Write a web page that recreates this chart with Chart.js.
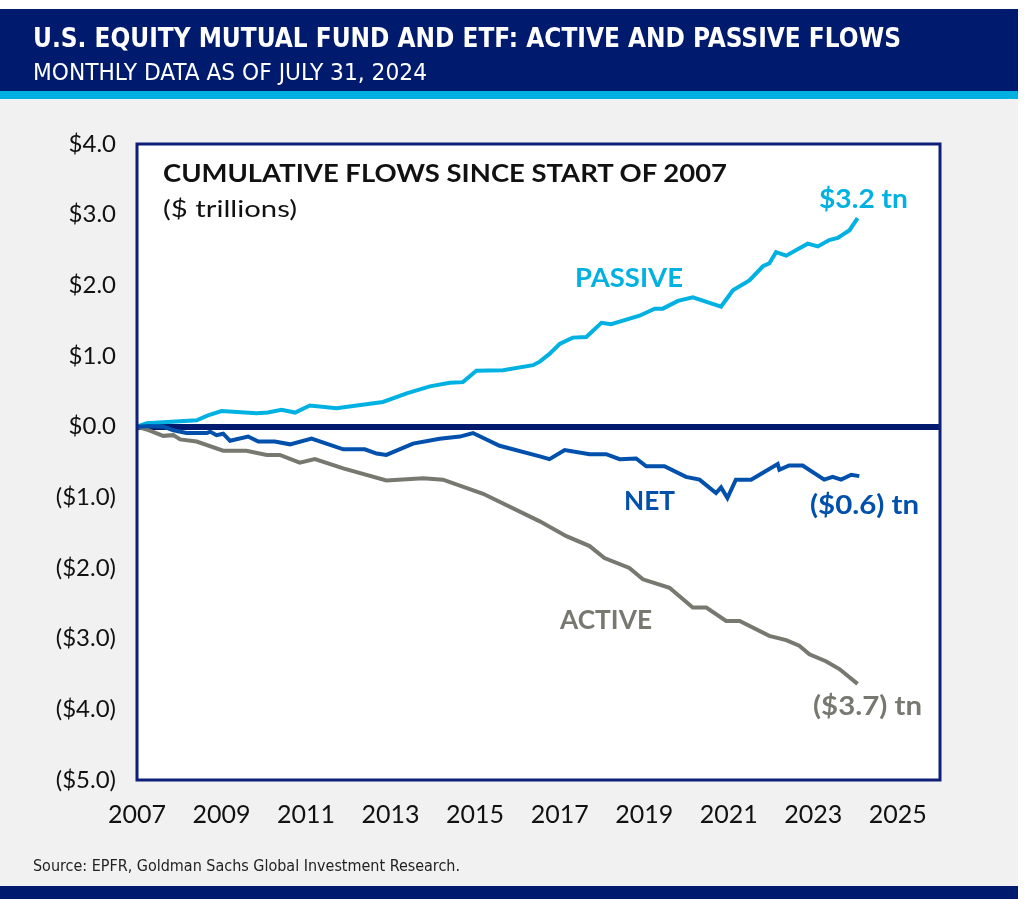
<!DOCTYPE html>
<html>
<head>
<meta charset="utf-8">
<script src="https://cdn.jsdelivr.net/npm/chart.js@4.4.1/dist/chart.umd.min.js"></script>
<style>
  body { margin: 0; width: 1024px; height: 899px; position: relative; overflow: hidden; background: #fff; font-family: Lato, sans-serif; }
  #header { position: absolute; left: 0; top: 9px; width: 1018px; height: 82px; background: #001a6e; }
  #stripe { position: absolute; left: 0; top: 91px; width: 1018px; height: 8px; background: #00b0e0; }
  #panel { position: absolute; left: 0; top: 99px; width: 1018px; height: 787px; background: #f1f1f1; }
  #footer { position: absolute; left: 0; top: 886px; width: 1018px; height: 13px; background: #001a6e; }
  #chart { position: absolute; left: 0; top: 0; }
  .txt { position: absolute; white-space: nowrap; line-height: 1; transform-origin: 0 0; }
  .narrow { font-family: "Liberation Sans Narrow", "DejaVu Sans Condensed", "Roboto", sans-serif; }
</style>
</head>
<body>
<div id="header"></div>
<div id="stripe"></div>
<div id="panel"></div>
<div id="footer"></div>
<canvas id="chart" width="1024" height="899"></canvas>

<div class="txt narrow" data-w="868" data-c="38" style="left:33px;font-size:26px;font-weight:bold;color:#fff">U.S. EQUITY MUTUAL FUND AND ETF: ACTIVE AND PASSIVE FLOWS</div>
<div class="txt narrow" data-w="394" data-c="72" style="left:33px;font-size:23px;color:#fff">MONTHLY DATA AS OF JULY 31, 2024</div>
<div class="txt narrow" data-w="427" data-c="866" style="left:33px;font-size:16px;color:#222">Source: EPFR, Goldman Sachs Global Investment Research.</div>

<div class="txt" data-w="564" data-c="174" style="left:163px;font-size:24px;font-weight:bold;color:#111">CUMULATIVE FLOWS SINCE START OF 2007</div>
<div class="txt" data-w="134" data-c="209" style="left:163px;font-size:24px;color:#111">($ trillions)</div>
<div class="txt" data-w="108" data-c="278" style="left:575px;font-size:26px;font-weight:bold;color:#00b1e1">PASSIVE</div>
<div class="txt" data-w="89" data-c="199" style="left:819px;font-size:26px;font-weight:bold;color:#00b1e1">$3.2 tn</div>
<div class="txt" data-w="51" data-c="501" style="left:624px;font-size:26px;font-weight:bold;color:#0050ac">NET</div>
<div class="txt" data-w="109" data-c="505" style="left:810px;font-size:26px;font-weight:bold;color:#0050ac">($0.6) tn</div>
<div class="txt" data-w="92" data-c="620" style="left:560px;font-size:26px;font-weight:bold;color:#777870">ACTIVE</div>
<div class="txt" data-w="109" data-c="706" style="left:813px;font-size:26px;font-weight:bold;color:#777870">($3.7) tn</div>

<script>
// cumulative flows, $ trillions
const passiveX = [2007.00, 2007.23, 2008.41, 2008.68, 2009.00, 2009.83, 2010.10, 2010.42, 2010.74, 2011.09, 2011.72, 2012.82, 2013.38, 2013.93, 2014.40, 2014.71, 2015.03, 2015.66, 2016.37, 2016.53, 2016.76, 2017.00, 2017.31, 2017.63, 2017.99, 2018.22, 2018.89, 2019.25, 2019.44, 2019.80, 2020.15, 2020.82, 2021.10, 2021.49, 2021.81, 2021.96, 2022.12, 2022.36, 2022.87, 2023.11, 2023.38, 2023.58, 2023.86, 2024.05];
const passiveY = [0.00, 0.05, 0.09, 0.16, 0.22, 0.19, 0.20, 0.24, 0.20, 0.30, 0.26, 0.35, 0.47, 0.57, 0.62, 0.63, 0.79, 0.80, 0.87, 0.92, 1.03, 1.17, 1.26, 1.27, 1.47, 1.45, 1.57, 1.67, 1.67, 1.78, 1.83, 1.70, 1.93, 2.07, 2.27, 2.31, 2.47, 2.42, 2.59, 2.55, 2.64, 2.67, 2.78, 2.95];

const activeX = [2007.00, 2007.23, 2007.62, 2007.86, 2008.02, 2008.41, 2009.04, 2009.59, 2010.07, 2010.38, 2010.85, 2011.21, 2011.88, 2012.90, 2013.77, 2014.24, 2015.19, 2016.53, 2017.16, 2017.71, 2018.06, 2018.65, 2018.97, 2019.60, 2020.15, 2020.47, 2020.94, 2021.26, 2021.96, 2022.36, 2022.67, 2022.91, 2023.30, 2023.62, 2024.05];
const activeY = [0.00, -0.04, -0.13, -0.12, -0.18, -0.21, -0.34, -0.34, -0.40, -0.40, -0.51, -0.46, -0.59, -0.76, -0.73, -0.75, -0.95, -1.34, -1.55, -1.69, -1.86, -2.00, -2.16, -2.28, -2.56, -2.56, -2.75, -2.75, -2.96, -3.02, -3.10, -3.22, -3.32, -3.43, -3.64];

const netX = [2007.00, 2007.31, 2007.62, 2007.86, 2008.17, 2008.65, 2008.73, 2008.88, 2009.04, 2009.20, 2009.63, 2009.87, 2010.26, 2010.62, 2011.13, 2011.88, 2012.39, 2012.67, 2012.90, 2013.53, 2014.16, 2014.64, 2014.95, 2015.58, 2016.53, 2016.76, 2017.12, 2017.71, 2018.10, 2018.42, 2018.81, 2019.05, 2019.48, 2019.99, 2020.31, 2020.70, 2020.82, 2020.97, 2021.17, 2021.53, 2022.16, 2022.20, 2022.43, 2022.75, 2023.26, 2023.46, 2023.66, 2023.90, 2024.09];
const netY = [0.00, 0.01, 0.00, -0.05, -0.09, -0.09, -0.07, -0.12, -0.10, -0.20, -0.14, -0.21, -0.21, -0.25, -0.17, -0.32, -0.32, -0.38, -0.40, -0.24, -0.17, -0.14, -0.09, -0.27, -0.42, -0.46, -0.33, -0.39, -0.39, -0.46, -0.45, -0.56, -0.56, -0.71, -0.75, -0.94, -0.86, -1.01, -0.75, -0.75, -0.53, -0.61, -0.55, -0.55, -0.75, -0.71, -0.75, -0.68, -0.70];

const xTicks = [2007, 2009, 2011, 2013, 2015, 2017, 2019, 2021, 2023, 2025];
const yTicks = [-5, -4, -3, -2, -1, 0, 1, 2, 3, 4];

const NAVY = "#0d1f78";

// joins x and y arrays into {x, y} points
function points(xs, ys) {
  return xs.map((x, i) => ({ x: x, y: ys[i] }));
}

function money(v) {
  return v < 0 ? "($" + Math.abs(v).toFixed(1) + ")" : "$" + v.toFixed(1);
}

// white plot area with a navy frame
const frame = {
  id: "frame",
  beforeDraw(chart) {
    const a = chart.chartArea;
    chart.ctx.save();
    chart.ctx.fillStyle = "#fff";
    chart.ctx.fillRect(a.left, a.top, a.right - a.left, a.bottom - a.top);
    chart.ctx.restore();
  },
  afterDraw(chart) {
    const a = chart.chartArea;
    chart.ctx.save();
    chart.ctx.strokeStyle = NAVY;
    chart.ctx.lineWidth = 3;
    chart.ctx.strokeRect(a.left, a.top, a.right - a.left, a.bottom - a.top);
    chart.ctx.restore();
  },
};

function line(data, color) {
  return {
    data: data,
    borderColor: color,
    borderWidth: 4,
    pointRadius: 0,
    tension: 0,
    fill: false,
  };
}

new Chart(document.getElementById("chart"), {
  type: "line",
  data: {
    datasets: [
      line(points(netX, netY), "#0050ac"),
      line(points(passiveX, passiveY), "#00b1e1"),
      line(points(activeX, activeY), "#777870"),
    ],
  },
  options: {
    responsive: false,
    animation: false,
    layout: { padding: { top: 144, right: 84, left: 0, bottom: 0 } },
    plugins: { legend: { display: false }, tooltip: { enabled: false } },
    scales: {
      x: {
        type: "linear",
        min: 2007,
        max: 2026,
        afterBuildTicks: (s) => { s.ticks = xTicks.map((v) => ({ value: v })); },
        afterFit: (s) => { s.height = 119; },
        grid: { display: false, drawTicks: false },
        border: { display: false },
        ticks: {
          padding: 20,
          maxRotation: 0,
          autoSkip: false,
          color: "#111",
          font: { family: "Lato", size: 25 },
          callback: (v) => String(v),
        },
      },
      y: {
        min: -5,
        max: 4,
        z: 1,
        afterBuildTicks: (s) => { s.ticks = yTicks.map((v) => ({ value: v })); },
        afterFit: (s) => { s.width = 137; },
        grid: {
          drawTicks: false,
          color: (c) => (c.tick && c.tick.value === 0 ? "#001a6e" : "rgba(0,0,0,0)"),
          lineWidth: (c) => (c.tick && c.tick.value === 0 ? 6 : 0),
        },
        border: { display: false },
        ticks: {
          padding: 21,
          color: "#111",
          font: { family: "Lato", size: 24 },
          callback: (v) => money(v),
        },
      },
    },
  },
  plugins: [frame],
});

// put each text by its cap centre and stretch it to the measured width
document.querySelectorAll(".txt").forEach((el) => {
  const size = parseFloat(el.style.fontSize);
  const k = el.classList.contains("narrow") ? 0.49 : 0.53;
  el.style.top = (parseFloat(el.dataset.c) - k * size) + "px";
  const w = el.getBoundingClientRect().width;
  el.style.transform = "scaleX(" + (parseFloat(el.dataset.w) / w) + ")";
});
</script>
</body>
</html>
